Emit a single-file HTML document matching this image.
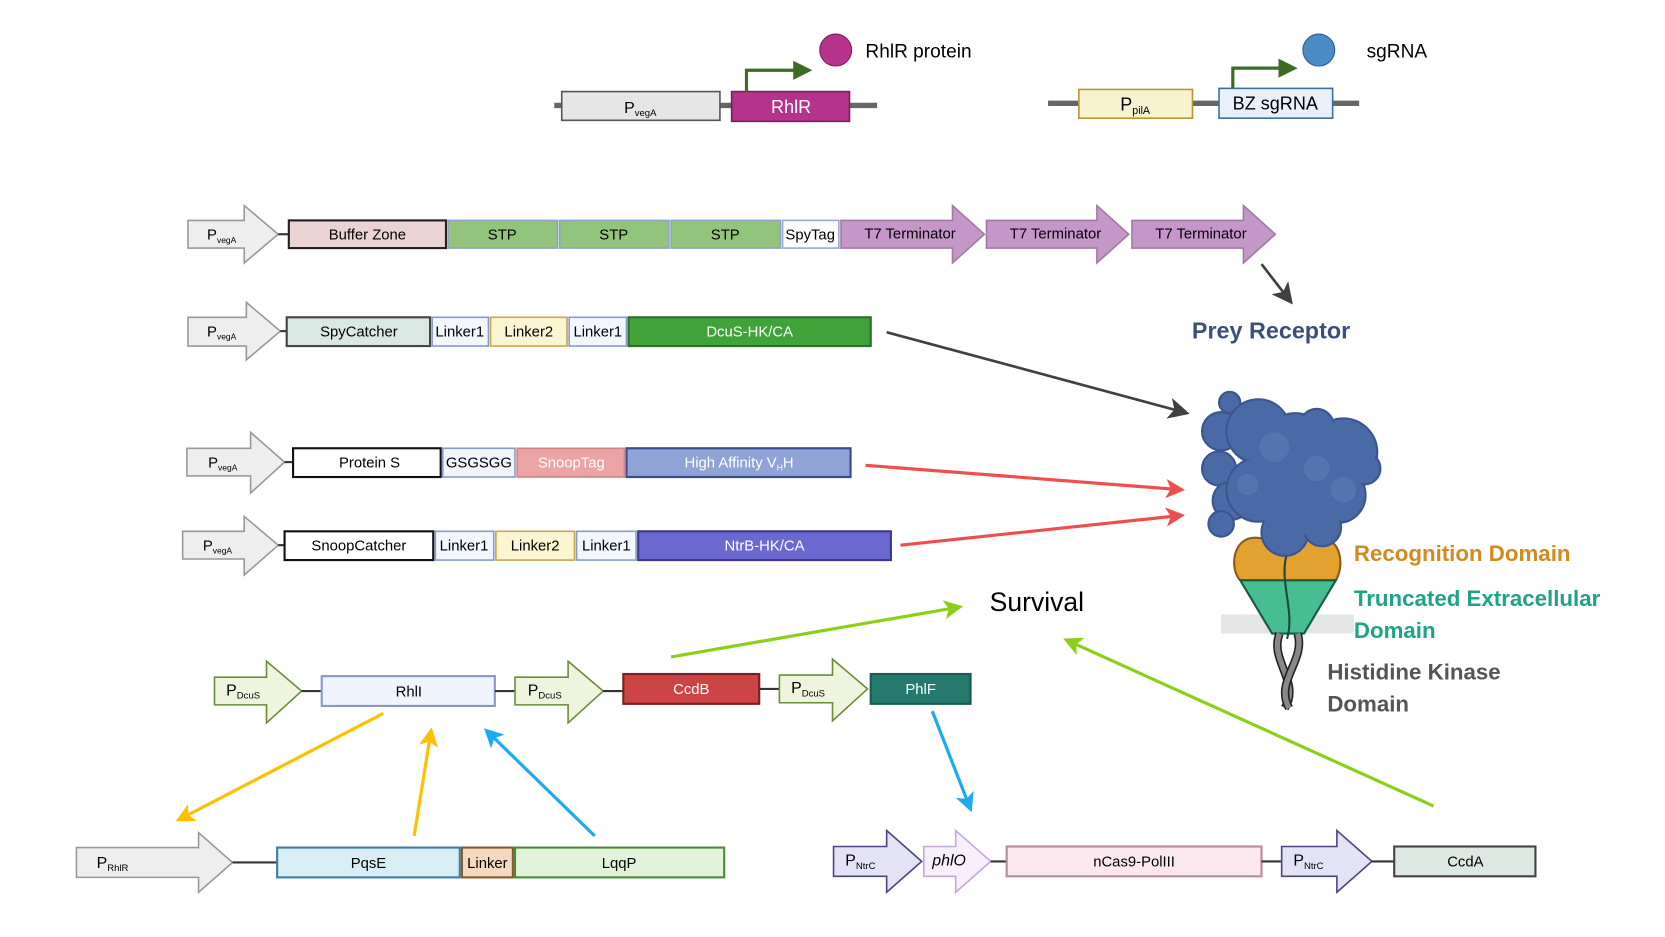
<!DOCTYPE html>
<html><head><meta charset="utf-8"><style>
html,body{margin:0;padding:0;background:#fff;}
svg{display:block;}
text{font-family:"Liberation Sans",sans-serif;}
</style></head><body>
<svg width="1665" height="937" viewBox="0 0 1568 880" preserveAspectRatio="none" xmlns="http://www.w3.org/2000/svg">
<defs>
<marker id="ad" markerWidth="8" markerHeight="8" refX="7" refY="4" orient="auto" markerUnits="strokeWidth"><path d="M0,0 L8,4 L0,8 L2,4z" fill="#404040"/></marker>
<marker id="ar" markerWidth="6" markerHeight="6" refX="5" refY="3" orient="auto" markerUnits="strokeWidth"><path d="M0,0 L6,3 L0,6 L1.5,3z" fill="#f04e4e"/></marker>
<marker id="ag" markerWidth="6" markerHeight="6" refX="5" refY="3" orient="auto" markerUnits="strokeWidth"><path d="M0,0 L6,3 L0,6 L1.5,3z" fill="#8ccf1a"/></marker>
<marker id="ay" markerWidth="6" markerHeight="6" refX="5" refY="3" orient="auto" markerUnits="strokeWidth"><path d="M0,0 L6,3 L0,6 L1.5,3z" fill="#ffc000"/></marker>
<marker id="ab" markerWidth="6" markerHeight="6" refX="5" refY="3" orient="auto" markerUnits="strokeWidth"><path d="M0,0 L6,3 L0,6 L1.5,3z" fill="#1aabf0"/></marker>
<marker id="agr" markerWidth="6" markerHeight="6" refX="5" refY="3" orient="auto" markerUnits="strokeWidth"><path d="M0,0 L6,3 L0,6z" fill="#3d6b22"/></marker>
</defs>

<line x1="522" y1="99" x2="826" y2="99" stroke="#666" stroke-width="5"/>
<rect x="529" y="86" width="149" height="27" fill="#e6e6e6" stroke="#555" stroke-width="1.5"/>
<text x="603" y="106" font-size="15" text-anchor="middle">P<tspan font-size="9" dy="3">vegA</tspan></text>
<rect x="689" y="86" width="111" height="28" fill="#b5338a" stroke="#7a1f5c" stroke-width="1.5"/>
<text x="745" y="106" font-size="17" fill="#fff" text-anchor="middle">RhlR</text>
<path d="M703,86 V66 H762" fill="none" stroke="#3d6b22" stroke-width="3" marker-end="url(#agr)"/>
<circle cx="787" cy="47" r="15" fill="#b5338a" stroke="#7a1f5c"/>
<text x="815" y="54" font-size="18">RhlR protein</text>

<line x1="987" y1="97" x2="1280" y2="97" stroke="#666" stroke-width="5"/>
<rect x="1016" y="84" width="107" height="27" fill="#f7f3cf" stroke="#b8962e" stroke-width="1.5"/>
<text x="1055" y="104" font-size="17">P<tspan font-size="10" dy="3">pilA</tspan></text>
<rect x="1148" y="83" width="107" height="28" fill="#e8f1fb" stroke="#3c6fa0" stroke-width="1.5"/>
<text x="1201" y="103" font-size="17" text-anchor="middle">BZ sgRNA</text>
<path d="M1161,83 V64 H1219" fill="none" stroke="#3d6b22" stroke-width="3" marker-end="url(#agr)"/>
<circle cx="1242" cy="47" r="15" fill="#4a8bc9" stroke="#2d5f8f"/>
<text x="1287" y="54" font-size="18">sgRNA</text>

<path d="M177,207 H230 V193 L262,220 L230,247 V233 H177Z" fill="#eee" stroke="#999" stroke-width="1.5"/>
<text x="195" y="225" font-size="14">P<tspan font-size="8" dy="3">vegA</tspan></text>
<line x1="262" y1="220" x2="272" y2="220" stroke="#333" stroke-width="2"/>
<rect x="272" y="207" width="148" height="26" fill="#ecd3d3" stroke="#222" stroke-width="2"/>
<text x="346" y="225" font-size="14" text-anchor="middle">Buffer Zone</text>
<rect x="422" y="207" width="103" height="26" fill="#93c47d" stroke="#8fa2c8" stroke-width="1.5"/>
<text x="473" y="225" font-size="14" text-anchor="middle">STP</text>
<rect x="527" y="207" width="103" height="26" fill="#93c47d" stroke="#8fa2c8" stroke-width="1.5"/>
<text x="578" y="225" font-size="14" text-anchor="middle">STP</text>
<rect x="632" y="207" width="103" height="26" fill="#93c47d" stroke="#8fa2c8" stroke-width="1.5"/>
<text x="683" y="225" font-size="14" text-anchor="middle">STP</text>
<rect x="737" y="207" width="53" height="26" fill="#fff" stroke="#9aa8d0" stroke-width="1.5"/>
<text x="763" y="225" font-size="14" text-anchor="middle">SpyTag</text>
<path d="M792,207 H897 V193 L927,220 L897,247 V233 H792Z" fill="#c597c9" stroke="#a07aa7" stroke-width="1.5"/>
<text x="857" y="224" font-size="14" text-anchor="middle">T7 Terminator</text>
<path d="M929,207 H1033 V193 L1063,220 L1033,247 V233 H929Z" fill="#c597c9" stroke="#a07aa7" stroke-width="1.5"/>
<text x="994" y="224" font-size="14" text-anchor="middle">T7 Terminator</text>
<path d="M1066,207 H1171 V193 L1201,220 L1171,247 V233 H1066Z" fill="#c597c9" stroke="#a07aa7" stroke-width="1.5"/>
<text x="1131" y="224" font-size="14" text-anchor="middle">T7 Terminator</text>
<line x1="1188" y1="248" x2="1216" y2="284" stroke="#404040" stroke-width="2.5" marker-end="url(#ad)"/>
<text x="1197" y="318" font-size="22" font-weight="bold" fill="#3b4f7a" text-anchor="middle">Prey Receptor</text>

<path d="M177,298 H232 V284 L264,311 L232,338 V325 H177Z" fill="#eee" stroke="#999" stroke-width="1.5"/>
<text x="195" y="316" font-size="14">P<tspan font-size="8" dy="3">vegA</tspan></text>
<line x1="264" y1="311" x2="270" y2="311" stroke="#333" stroke-width="2"/>
<rect x="270" y="298" width="135" height="27" fill="#d9e8e3" stroke="#444" stroke-width="2"/>
<text x="338" y="316" font-size="14" text-anchor="middle">SpyCatcher</text>
<rect x="407" y="298" width="53" height="27" fill="#f2f6fd" stroke="#8899cc" stroke-width="1.5"/>
<text x="433" y="316" font-size="14" text-anchor="middle">Linker1</text>
<rect x="462" y="298" width="72" height="27" fill="#fbf5d2" stroke="#c5a84d" stroke-width="1.5"/>
<text x="498" y="316" font-size="14" text-anchor="middle">Linker2</text>
<rect x="536" y="298" width="54" height="27" fill="#f2f6fd" stroke="#8899cc" stroke-width="1.5"/>
<text x="563" y="316" font-size="14" text-anchor="middle">Linker1</text>
<rect x="592" y="298" width="228" height="27" fill="#3fa33a" stroke="#2c6e2a" stroke-width="2"/>
<text x="706" y="316" font-size="14" fill="#fff" text-anchor="middle">DcuS-HK/CA</text>
<line x1="835" y1="312" x2="1118" y2="388" stroke="#404040" stroke-width="2.5" marker-end="url(#ad)"/>

<path d="M176,421 H236 V406 L268,434 L236,463 V447 H176Z" fill="#eee" stroke="#999" stroke-width="1.5"/>
<text x="196" y="439" font-size="14">P<tspan font-size="8" dy="3">vegA</tspan></text>
<line x1="268" y1="434" x2="276" y2="434" stroke="#333" stroke-width="2"/>
<rect x="276" y="421" width="139" height="27" fill="#fff" stroke="#111" stroke-width="2"/>
<text x="348" y="439" font-size="14" text-anchor="middle">Protein S</text>
<rect x="417" y="421" width="68" height="27" fill="#f2f4fd" stroke="#8899cc" stroke-width="1.5"/>
<text x="451" y="439" font-size="14" text-anchor="middle">GSGSGG</text>
<rect x="487" y="421" width="101" height="27" fill="#eba3a3" stroke="#c88" stroke-width="1.5"/>
<text x="538" y="439" font-size="14" fill="#fff" text-anchor="middle">SnoopTag</text>
<rect x="590" y="421" width="211" height="27" fill="#8ea3d6" stroke="#3a4a8a" stroke-width="2"/>
<text x="696" y="439" font-size="14" fill="#fff" text-anchor="middle">High Affinity V<tspan font-size="8" dy="3">H</tspan><tspan dy="-3">H</tspan></text>
<line x1="815" y1="437" x2="1113" y2="460" stroke="#f04e4e" stroke-width="3" marker-end="url(#ar)"/>

<path d="M172,499 H230 V485 L262,512 L230,540 V525 H172Z" fill="#eee" stroke="#999" stroke-width="1.5"/>
<text x="191" y="517" font-size="14">P<tspan font-size="8" dy="3">vegA</tspan></text>
<line x1="262" y1="512" x2="268" y2="512" stroke="#333" stroke-width="2"/>
<rect x="268" y="499" width="140" height="27" fill="#fff" stroke="#111" stroke-width="2"/>
<text x="338" y="517" font-size="14" text-anchor="middle">SnoopCatcher</text>
<rect x="410" y="499" width="55" height="27" fill="#f2f6fd" stroke="#8899cc" stroke-width="1.5"/>
<text x="437" y="517" font-size="14" text-anchor="middle">Linker1</text>
<rect x="467" y="499" width="74" height="27" fill="#fbf5d2" stroke="#c5a84d" stroke-width="1.5"/>
<text x="504" y="517" font-size="14" text-anchor="middle">Linker2</text>
<rect x="543" y="499" width="56" height="27" fill="#f2f6fd" stroke="#8899cc" stroke-width="1.5"/>
<text x="571" y="517" font-size="14" text-anchor="middle">Linker1</text>
<rect x="601" y="499" width="238" height="27" fill="#6b68d0" stroke="#3a3890" stroke-width="2"/>
<text x="720" y="517" font-size="14" fill="#fff" text-anchor="middle">NtrB-HK/CA</text>
<line x1="848" y1="512" x2="1113" y2="484" stroke="#f04e4e" stroke-width="3" marker-end="url(#ar)"/>

<text x="932" y="574" font-size="25">Survival</text>
<line x1="632" y1="617" x2="904" y2="570" stroke="#8ccf1a" stroke-width="3" marker-end="url(#ag)"/>
<line x1="1350" y1="757" x2="1004" y2="601" stroke="#8ccf1a" stroke-width="3" marker-end="url(#ag)"/>

<path d="M202,636 H251 V621 L284,649 L251,679 V662 H202Z" fill="#eef5dc" stroke="#6a8c3a" stroke-width="1.5"/>
<text x="213" y="653" font-size="15">P<tspan font-size="9" dy="3">DcuS</tspan></text>
<line x1="284" y1="649" x2="303" y2="649" stroke="#333" stroke-width="2"/>
<rect x="303" y="635" width="163" height="28" fill="#f0f4fc" stroke="#8899cc" stroke-width="2"/>
<text x="385" y="654" font-size="14" text-anchor="middle">RhlI</text>
<line x1="466" y1="649" x2="485" y2="649" stroke="#333" stroke-width="2"/>
<path d="M485,636 H535 V621 L568,649 L535,679 V662 H485Z" fill="#eef5dc" stroke="#6a8c3a" stroke-width="1.5"/>
<text x="497" y="653" font-size="15">P<tspan font-size="9" dy="3">DcuS</tspan></text>
<line x1="568" y1="649" x2="587" y2="649" stroke="#333" stroke-width="2"/>
<rect x="587" y="633" width="128" height="28" fill="#cc4444" stroke="#7a2020" stroke-width="2"/>
<text x="651" y="652" font-size="14" fill="#fff" text-anchor="middle">CcdB</text>
<line x1="715" y1="647" x2="734" y2="647" stroke="#333" stroke-width="2"/>
<path d="M734,634 H784 V619 L817,647 L784,677 V660 H734Z" fill="#eef5dc" stroke="#6a8c3a" stroke-width="1.5"/>
<text x="745" y="651" font-size="15">P<tspan font-size="9" dy="3">DcuS</tspan></text>
<rect x="820" y="633" width="94" height="28" fill="#257a6e" stroke="#1a5a50" stroke-width="2"/>
<text x="867" y="652" font-size="14" fill="#fff" text-anchor="middle">PhlF</text>

<line x1="361" y1="670" x2="168" y2="770" stroke="#ffc000" stroke-width="3" marker-end="url(#ay)"/>
<line x1="390" y1="785" x2="406" y2="686" stroke="#ffc000" stroke-width="3" marker-end="url(#ay)"/>
<line x1="560" y1="785" x2="458" y2="686" stroke="#1aabf0" stroke-width="3" marker-end="url(#ab)"/>
<line x1="878" y1="668" x2="914" y2="760" stroke="#1aabf0" stroke-width="3" marker-end="url(#ab)"/>

<path d="M72,796 H187 V782 L219,810 L187,838 V824 H72Z" fill="#eee" stroke="#999" stroke-width="1.5"/>
<text x="91" y="815" font-size="15">P<tspan font-size="9" dy="3">RhlR</tspan></text>
<line x1="219" y1="810" x2="261" y2="810" stroke="#333" stroke-width="2"/>
<rect x="261" y="796" width="172" height="28" fill="#d8eef5" stroke="#3f7f9e" stroke-width="2"/>
<text x="347" y="815" font-size="14" text-anchor="middle">PqsE</text>
<rect x="435" y="796" width="48" height="28" fill="#f5d9bf" stroke="#8a5a2a" stroke-width="2"/>
<text x="459" y="815" font-size="14" text-anchor="middle">Linker</text>
<rect x="485" y="796" width="197" height="28" fill="#e1f3d8" stroke="#4d8a38" stroke-width="2"/>
<text x="583" y="815" font-size="14" text-anchor="middle">LqqP</text>

<path d="M785,795 H835 V780 L868,809 L835,838 V823 H785Z" fill="#e4e2f5" stroke="#4a4580" stroke-width="1.5"/>
<text x="796" y="813" font-size="15">P<tspan font-size="9" dy="3">NtrC</tspan></text>
<path d="M870,795 H900 V780 L933,809 L900,838 V823 H870Z" fill="#f7effb" stroke="#c4a8d8" stroke-width="1.5"/>
<text x="878" y="813" font-size="15" font-style="italic">phlO</text>
<line x1="933" y1="809" x2="948" y2="809" stroke="#333" stroke-width="2"/>
<rect x="948" y="795" width="240" height="28" fill="#fbe8ee" stroke="#b98a9b" stroke-width="2"/>
<text x="1068" y="814" font-size="14" text-anchor="middle">nCas9-PolIII</text>
<line x1="1188" y1="809" x2="1207" y2="809" stroke="#333" stroke-width="2"/>
<path d="M1207,795 H1259 V780 L1292,809 L1259,838 V823 H1207Z" fill="#e4e2f5" stroke="#4a4580" stroke-width="1.5"/>
<text x="1218" y="813" font-size="15">P<tspan font-size="9" dy="3">NtrC</tspan></text>
<line x1="1292" y1="809" x2="1313" y2="809" stroke="#333" stroke-width="2"/>
<rect x="1313" y="795" width="133" height="28" fill="#dde8e3" stroke="#444" stroke-width="2"/>
<text x="1380" y="814" font-size="14" text-anchor="middle">CcdA</text>

<rect x="1150" y="577" width="125" height="18" fill="#e4e5e7"/>
<path d="M1182,505 C1160,505 1158,535 1168,545 L1258,545 C1266,532 1264,505 1242,505 C1228,505 1215,515 1212,520 C1208,515 1196,505 1182,505Z" fill="#e3a22f" stroke="#8a5a18" stroke-width="2"/>
<path d="M1168,545 L1258,545 L1228,595 L1198,595Z" fill="#46bd93" stroke="#1a5a40" stroke-width="2"/>
<path d="M1212,520 C1204,545 1220,575 1212,600" fill="none" stroke="#1a4a38" stroke-width="2"/>
<path d="M1205,595 C1195,620 1225,640 1210,665" fill="none" stroke="#222" stroke-width="8"/>
<path d="M1205,595 C1195,620 1225,640 1210,665" fill="none" stroke="#888" stroke-width="5"/>
<path d="M1222,595 C1230,620 1200,640 1214,665" fill="none" stroke="#222" stroke-width="8"/>
<path d="M1222,595 C1230,620 1200,640 1214,665" fill="none" stroke="#888" stroke-width="5"/>
<g fill="#4a6aa6" stroke="#3a5590" stroke-width="2">
<circle cx="1158" cy="378" r="10"/><circle cx="1150" cy="405" r="18"/><circle cx="1148" cy="440" r="16"/><circle cx="1160" cy="470" r="18"/><circle cx="1150" cy="492" r="12"/>
<circle cx="1185" cy="405" r="30"/><circle cx="1220" cy="420" r="32"/><circle cx="1265" cy="425" r="32"/>
<circle cx="1185" cy="460" r="30"/><circle cx="1225" cy="470" r="32"/><circle cx="1260" cy="465" r="26"/>
<circle cx="1210" cy="500" r="22"/><circle cx="1245" cy="495" r="18"/><circle cx="1240" cy="400" r="16"/><circle cx="1285" cy="440" r="15"/>
</g>
<g fill="#4a6aa6"><circle cx="1185" cy="405" r="28"/><circle cx="1220" cy="420" r="30"/><circle cx="1265" cy="425" r="30"/><circle cx="1185" cy="460" r="28"/><circle cx="1225" cy="470" r="30"/><circle cx="1260" cy="465" r="24"/><circle cx="1210" cy="495" r="20"/></g>
<g fill="#5a7ab3" opacity="0.7"><circle cx="1200" cy="420" r="14"/><circle cx="1240" cy="440" r="12"/><circle cx="1175" cy="455" r="10"/><circle cx="1265" cy="460" r="12"/></g>
<text x="1275" y="527" font-size="21" font-weight="bold" fill="#d4891f">Recognition Domain</text>
<text x="1275" y="569" font-size="21" font-weight="bold" fill="#1fa386">Truncated Extracellular</text>
<text x="1275" y="599" font-size="21" font-weight="bold" fill="#1fa386">Domain</text>
<text x="1250" y="638" font-size="21" font-weight="bold" fill="#555">Histidine Kinase</text>
<text x="1250" y="668" font-size="21" font-weight="bold" fill="#555">Domain</text>
</svg>
</body></html>
